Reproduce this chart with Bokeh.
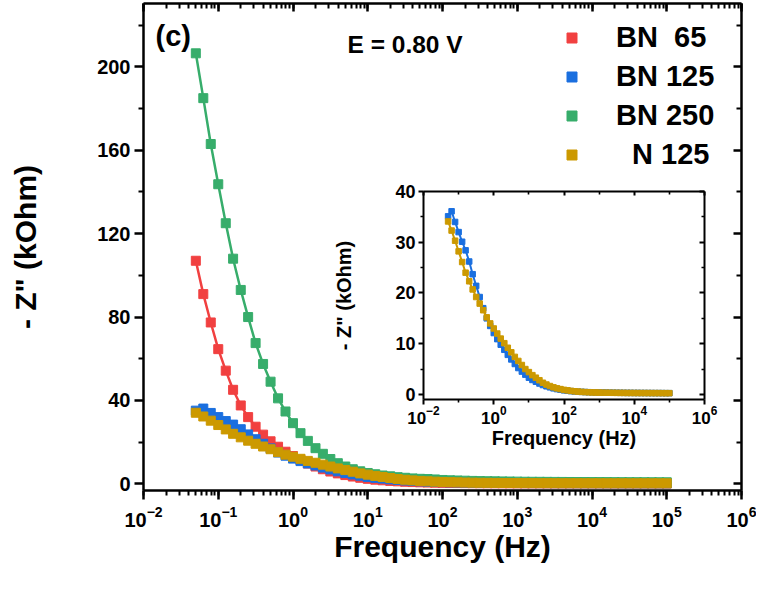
from bokeh.plotting import figure
from bokeh.models import (Range1d, LogTicker, FixedTicker, LinearAxis, LogAxis,
                          Legend, LegendItem, Label)
from bokeh.embed import file_html
from bokeh.resources import INLINE

# ---------------- data ----------------
freq = [0.0501, 0.0631, 0.0794, 0.1, 0.126, 0.158, 0.2, 0.251, 0.316, 0.398,
        0.501, 0.631, 0.794, 1.0, 1.26, 1.58, 2.0, 2.51, 3.16, 3.98,
        5.01, 6.31, 7.94, 10.0, 12.6, 15.8, 20.0, 25.1, 31.6, 39.8,
        50.1, 63.1, 79.4, 100.0, 126, 158, 200, 251, 316, 398,
        501, 631, 794, 1000, 1260, 1580, 2000, 2510, 3160, 3980,
        5010, 6310, 7940, 10000, 12600, 15800, 20000, 25100, 31600, 39800,
        50100, 63100, 79400, 100000]

bn65 = [107.0, 91.0, 77.4, 64.6, 54.3, 45.1, 37.6, 32.0, 27.4, 23.6,
        20.4, 17.8, 15.4, 13.3, 11.4, 9.7, 8.3, 7.0, 5.9, 5.0,
        4.2, 3.5, 2.9, 2.4, 2.0, 1.7, 1.4, 1.2, 1.0, 0.85,
        0.72, 0.62, 0.54, 0.47, 0.42, 0.38, 0.35, 0.32, 0.30, 0.28,
        0.27, 0.26, 0.25, 0.24, 0.23, 0.22, 0.22, 0.21, 0.21, 0.20,
        0.20, 0.20, 0.19, 0.19, 0.19, 0.18, 0.18, 0.18, 0.18, 0.17,
        0.17, 0.17, 0.17, 0.16]

bn125 = [35.1, 36.1, 34.0, 32.0, 30.1, 28.4, 26.2, 23.7, 21.4, 19.2,
         17.0, 15.0, 13.5, 12.1, 10.9, 9.8, 8.8, 7.8, 6.9, 6.0,
         5.2, 4.5, 3.9, 3.3, 2.85, 2.5, 2.15, 1.85, 1.6, 1.4,
         1.2, 1.05, 0.92, 0.80, 0.72, 0.65, 0.59, 0.54, 0.50, 0.47,
         0.44, 0.42, 0.40, 0.38, 0.37, 0.36, 0.35, 0.34, 0.33, 0.32,
         0.31, 0.30, 0.30, 0.29, 0.29, 0.28, 0.28, 0.27, 0.27, 0.26,
         0.26, 0.26, 0.25, 0.25]

bn250 = [206.5, 185.0, 163.0, 143.7, 125.0, 108.0, 93.0, 80.0, 67.5, 57.5,
         49.0, 41.0, 34.7, 29.1, 24.3, 20.6, 17.1, 14.4, 11.9, 9.9,
         8.3, 7.0, 6.0, 5.2, 4.6, 4.0, 3.6, 3.2, 2.9, 2.6,
         2.4, 2.3, 2.1, 1.85, 1.7, 1.6, 1.5, 1.4, 1.3, 1.25,
         1.2, 1.15, 1.1, 1.05, 1.0, 0.98, 0.96, 0.94, 0.92, 0.90,
         0.88, 0.86, 0.85, 0.84, 0.83, 0.82, 0.81, 0.80, 0.79, 0.78,
         0.77, 0.76, 0.75, 0.74]

n125 = [34.1, 32.3, 30.3, 28.2, 26.1, 24.0, 22.3, 20.7, 19.2, 17.9,
        16.6, 15.2, 14.0, 13.0, 12.0, 11.0, 10.1, 9.2, 8.3, 7.4,
        6.6, 5.8, 5.0, 4.4, 3.8, 3.3, 2.8, 2.3, 1.95, 1.65,
        1.4, 1.2, 1.05, 0.90, 0.80, 0.70, 0.62, 0.56, 0.50, 0.46,
        0.43, 0.40, 0.38, 0.36, 0.35, 0.34, 0.33, 0.32, 0.31, 0.30,
        0.30, 0.29, 0.29, 0.28, 0.28, 0.27, 0.27, 0.27, 0.26, 0.26,
        0.26, 0.25, 0.25, 0.25]

series_labels = ["BN\u00a0 65", "BN 125", "BN 250", "\u00a0\u00a0N 125"]
colors = ["#F14040", "#1A6FDF", "#37AD6B", "#CC9900"]

main_y_ticks = [0, 40, 80, 120, 160, 200]
main_y_minor = [20, 60, 100, 140, 180, 220]
inset_y_ticks = [0, 10, 20, 30, 40]
inset_y_minor = [5, 15, 25, 35]
inset_x_ticks = [1e-2, 1e0, 1e2, 1e4, 1e6]
inset_x_minor = [1e-1, 1e1, 1e3, 1e5]

FONT = "Liberation Sans"


def style_axis(ax, lw, tick_out, tick_in, minor_out, minor_in, font_size, standoff,
               show_labels=True):
    ax.axis_line_width = lw
    ax.axis_line_color = "black"
    ax.major_tick_line_width = lw
    ax.minor_tick_line_width = lw * 0.8
    ax.major_tick_out = tick_out
    ax.major_tick_in = tick_in
    ax.minor_tick_out = minor_out
    ax.minor_tick_in = minor_in
    ax.major_label_text_font = FONT
    ax.major_label_text_font_style = "bold"
    ax.major_label_text_font_size = font_size
    ax.major_label_text_color = "black"
    ax.major_label_standoff = standoff
    ax.axis_label_text_font = FONT
    ax.axis_label_text_font_style = "bold"
    ax.axis_label_text_color = "black"
    if not show_labels:
        ax.major_label_text_alpha = 0


# ---------------- main figure ----------------
p = figure(width=756, height=590, x_axis_type="log",
           x_range=Range1d(0.01, 1e6), y_range=Range1d(-3.2, 230.4),
           output_backend="svg", toolbar_location=None,
           min_border_left=143, min_border_right=15,
           min_border_top=3, min_border_bottom=100)
p.grid.visible = False
p.outline_line_color = None
p.background_fill_color = "white"
p.border_fill_color = "white"

p.xaxis.ticker = LogTicker(num_minor_ticks=10)
p.yaxis.ticker = FixedTicker(ticks=main_y_ticks, minor_ticks=main_y_minor)
style_axis(p.xaxis[0], 2.5, 9, 0, 5, 0, "20px", 6)
style_axis(p.yaxis[0], 2.5, 9, 0, 5, 0, "20px", 4)
p.xaxis.axis_label = "Frequency (Hz)"
p.xaxis.axis_label_text_font_size = "30px"
p.xaxis.axis_label_standoff = 0
p.yaxis.axis_label = '- Z" (kOhm)'
p.yaxis.axis_label_text_font_size = "30px"
p.yaxis.axis_label_standoff = 52

top_ax = LogAxis(ticker=LogTicker(num_minor_ticks=10))
style_axis(top_ax, 2.5, 0, 8, 0, 5, "1px", 0, show_labels=False)
p.add_layout(top_ax, "above")
right_ax = LinearAxis(ticker=FixedTicker(ticks=main_y_ticks, minor_ticks=main_y_minor))
style_axis(right_ax, 2.5, 0, 8, 0, 5, "1px", 0, show_labels=False)
p.add_layout(right_ax, "right")

scatters = []
for vals, c in zip([bn65, bn125, bn250, n125], colors):
    p.line(freq, vals, color=c, line_width=2.5)
    sc = p.scatter(freq, vals, marker="square", size=9, color=c)
    scatters.append(sc)

legend = Legend(items=[LegendItem(label=lab, renderers=[sc])
                       for lab, sc in zip(series_labels, scatters)],
                location=(416, 319), orientation="vertical",
                glyph_width=25, glyph_height=33, label_height=33, spacing=6,
                label_standoff=32, padding=0, margin=0,
                border_line_color=None, background_fill_alpha=0,
                label_text_font=FONT, label_text_font_style="bold",
                label_text_font_size="29px", label_text_color="black")
p.add_layout(legend)

p.add_layout(Label(x=5.36, y=210.7, text="E = 0.80 V", text_font=FONT,
                   text_font_style="bold", text_font_size="24.5px",
                   text_baseline="middle", text_align="left", text_color="black"))
p.add_layout(Label(x=0.01447, y=215.0, text="(c)", text_font=FONT,
                   text_font_style="bold", text_font_size="29px",
                   text_baseline="middle", text_align="left", text_color="black"))

# ---------------- inset figure ----------------
ins = figure(width=392, height=278, x_axis_type="log",
             x_range=Range1d(0.01, 1e6), y_range=Range1d(-1, 40),
             output_backend="svg", toolbar_location=None,
             min_border_left=92, min_border_right=18,
             min_border_top=10, min_border_bottom=60)
ins.grid.visible = False
ins.outline_line_color = None
ins.background_fill_color = "white"
ins.border_fill_alpha = 0

ins.xaxis.ticker = FixedTicker(ticks=inset_x_ticks, minor_ticks=inset_x_minor)
ins.yaxis.ticker = FixedTicker(ticks=inset_y_ticks, minor_ticks=inset_y_minor)
style_axis(ins.xaxis[0], 2, 5, 0, 3, 0, "17px", 1)
style_axis(ins.yaxis[0], 2, 5, 0, 3, 0, "18px", 3)
ins.xaxis.axis_label = "Frequency (Hz)"
ins.xaxis.axis_label_text_font_size = "20px"
ins.xaxis.axis_label_standoff = 0
ins.yaxis.axis_label = '- Z" (kOhm)'
ins.yaxis.axis_label_text_font_size = "20px"
ins.yaxis.axis_label_standoff = 37

itop = LogAxis(ticker=FixedTicker(ticks=inset_x_ticks, minor_ticks=inset_x_minor))
style_axis(itop, 2, 0, 4, 0, 3, "1px", 0, show_labels=False)
ins.add_layout(itop, "above")
iright = LinearAxis(ticker=FixedTicker(ticks=inset_y_ticks, minor_ticks=inset_y_minor))
style_axis(iright, 2, 0, 5, 0, 3, "1px", 0, show_labels=False)
ins.add_layout(iright, "right")

for vals, c in zip([bn125, n125], [colors[1], colors[3]]):
    ins.line(freq, vals, color=c, line_width=2)
    ins.scatter(freq, vals, marker="square", size=5.5, color=c)

ins.margin = (-409, 0, 0, 330)
open("out.html", "w").write(file_html([p, ins], INLINE))
